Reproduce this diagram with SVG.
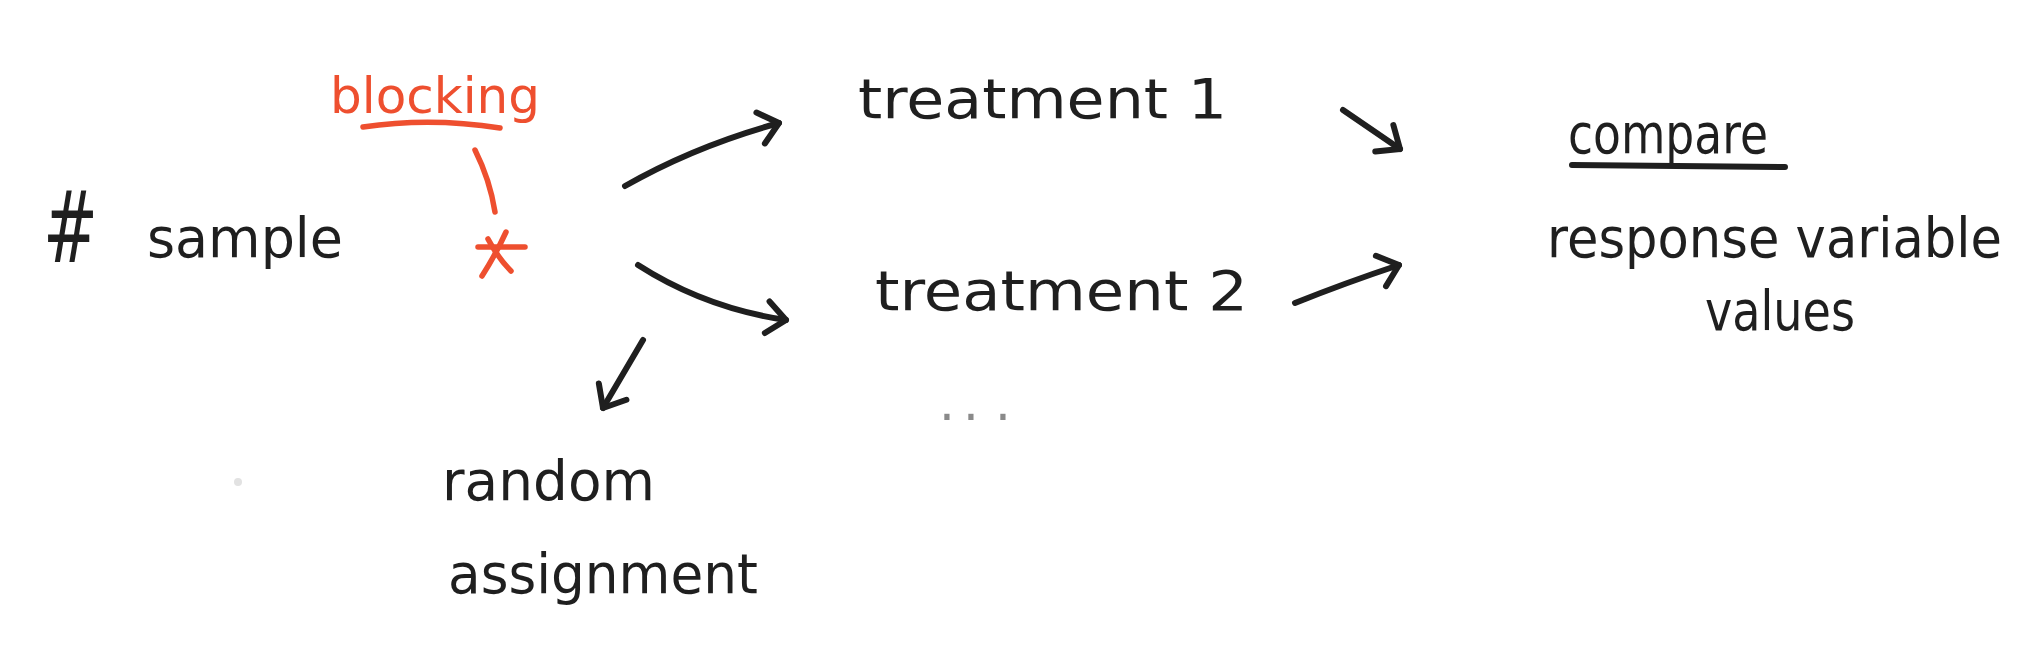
<svg xmlns="http://www.w3.org/2000/svg" width="2038" height="654" viewBox="0 0 2038 654">
<style>
  .ink { fill: #1f1f1f; font-family: "DejaVu Sans", "Liberation Sans", sans-serif; font-size: 55px; }
  .red { fill: #ee4f2f; font-family: "DejaVu Sans", "Liberation Sans", sans-serif; font-size: 50px; }
  .stroke { fill: none; stroke: #1f1f1f; stroke-width: 6; stroke-linecap: round; stroke-linejoin: round; }
  .rstroke { fill: none; stroke: #ee4f2f; stroke-width: 5.5; stroke-linecap: round; stroke-linejoin: round; }
</style>
<defs>
  <marker id="chev" markerUnits="userSpaceOnUse" markerWidth="60" markerHeight="60" viewBox="-30 -30 60 60" refX="0" refY="0" orient="auto">
    <path d="M-19,-16 L0,0 L-19,16" fill="none" stroke="#1f1f1f" stroke-width="6" stroke-linecap="round" stroke-linejoin="round"/>
  </marker>
</defs>
<rect width="2038" height="654" fill="#ffffff"/>
<circle cx="238" cy="482" r="4" fill="#e2e2e2"/>

<g id="node-sample">
  <text class="ink" x="43" y="262" style="font-size:100px" textLength="55" lengthAdjust="spacingAndGlyphs">#</text>
  <text class="ink" x="147" y="257" textLength="196" lengthAdjust="spacingAndGlyphs">sample</text>
</g>

<g id="node-blocking">
  <text class="red" x="330" y="113" textLength="210" lengthAdjust="spacingAndGlyphs">blocking</text>
  <path class="rstroke" d="M363,127 Q430,117 500,128"/>
  <g id="block-mark">
    <path class="rstroke" d="M478,247 L525,247"/>
    <path class="rstroke" d="M506,232 Q496,254 482,276"/>
    <path class="rstroke" d="M488,239 Q498,258 511,271"/>
  </g>
</g>

<g id="node-treatment1">
  <text class="ink" x="858" y="118" textLength="369" lengthAdjust="spacingAndGlyphs">treatment 1</text>
</g>

<g id="node-treatment2">
  <text class="ink" x="875" y="310" textLength="373" lengthAdjust="spacingAndGlyphs">treatment 2</text>
</g>

<g id="node-more">
  <text x="939 963 995" y="420" fill="#8a8a8a" font-family="DejaVu Sans, sans-serif" font-size="50">...</text>
</g>

<g id="node-compare">
  <text class="ink" x="1568" y="153" textLength="200" lengthAdjust="spacingAndGlyphs">compare</text>
  <path class="stroke" d="M1572,165 L1785,167"/>
  <text class="ink" x="1547" y="257" textLength="455" lengthAdjust="spacingAndGlyphs">response variable</text>
  <text class="ink" x="1705" y="330" textLength="150" lengthAdjust="spacingAndGlyphs">values</text>
</g>

<g id="node-random">
  <text class="ink" x="442" y="500" textLength="213" lengthAdjust="spacingAndGlyphs">random</text>
  <text class="ink" x="448" y="593" textLength="310" lengthAdjust="spacingAndGlyphs">assignment</text>
</g>

<g id="connectors">
  <path class="rstroke" d="M475,150 Q490,180 495,212"/>
  <path class="stroke" d="M625,186 Q695,146 779,123" marker-end="url(#chev)"/>
  <path class="stroke" d="M638,265 Q705,308 786,320" marker-end="url(#chev)"/>
  <path class="stroke" d="M643,340 L603,408" marker-end="url(#chev)"/>
  <path class="stroke" d="M1343,110 L1400,149" marker-end="url(#chev)"/>
  <path class="stroke" d="M1295,303 Q1345,283 1399,265" marker-end="url(#chev)"/>
</g>
</svg>
